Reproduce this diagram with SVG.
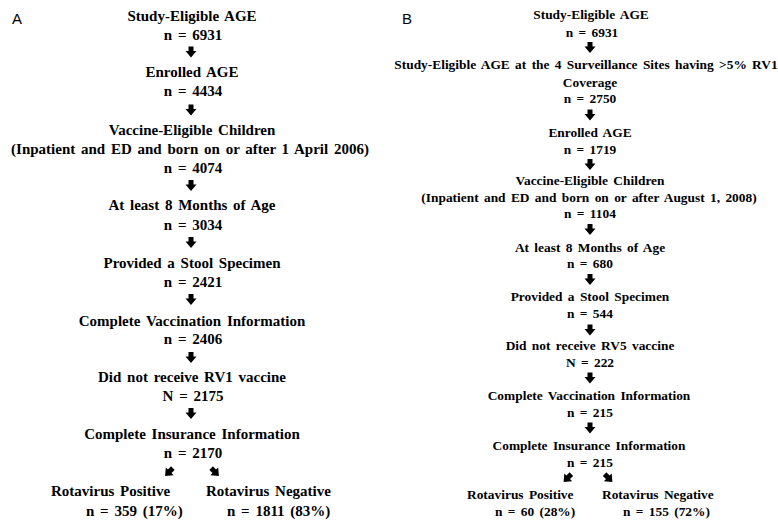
<svg xmlns="http://www.w3.org/2000/svg" xmlns:xlink="http://www.w3.org/1999/xlink" width="778" height="523" viewBox="0 0 778 523">
<style>
.t{font-family:"Liberation Serif","Times New Roman",serif;font-weight:bold;fill:#000;text-anchor:middle;word-spacing:2px}
.a{font-size:15px}
.b{font-size:13.4px}
.s{text-anchor:start}
.lbl{font-family:"Liberation Sans",Arial,sans-serif;font-size:15px;fill:#000}
</style>
<defs>
<path id="arr" d="M-2.5,-5.5 H2.5 V-1 H5.5 L0,5.5 L-5.5,-1 H-2.5 Z" fill="#000"/>
</defs>
<rect width="778" height="523" fill="#fff"/>
<text class="lbl" x="12" y="24">A</text>
<text class="lbl" x="402" y="24">B</text>
<g id="A-nodes" class="t a">
<g id="a1"><text x="192" y="21">Study-Eligible AGE</text><text x="193" y="40">n = 6931</text></g>
<g id="a2"><text x="192" y="77">Enrolled AGE</text><text x="193" y="96">n = 4434</text></g>
<g id="a3"><text x="192" y="135">Vaccine-Eligible Children</text><text x="190" y="154">(Inpatient and ED and born on or after 1 April 2006)</text><text x="193" y="173">n = 4074</text></g>
<g id="a4"><text x="192" y="210">At least 8 Months of Age</text><text x="193" y="230">n = 3034</text></g>
<g id="a5"><text x="192" y="268">Provided a Stool Specimen</text><text x="193" y="287">n = 2421</text></g>
<g id="a6"><text x="192" y="326">Complete Vaccination Information</text><text x="193" y="344">n = 2406</text></g>
<g id="a7"><text x="192" y="382">Did not receive RV1 vaccine</text><text x="193" y="401">N = 2175</text></g>
<g id="a8"><text x="192" y="439">Complete Insurance Information</text><text x="193" y="458">n = 2170</text></g>
<g id="a9"><text class="s" x="51" y="496">Rotavirus Positive</text><text class="s" x="86" y="516">n = 359 (17%)</text></g>
<g id="a10"><text class="s" x="206" y="496">Rotavirus Negative</text><text class="s" x="227" y="516">n = 1811 (83%)</text></g>
</g>
<g id="B-nodes" class="t b">
<g id="b1"><text x="591" y="19">Study-Eligible AGE</text><text x="592" y="37">n = 6931</text></g>
<g id="b2"><text x="586" y="69">Study-Eligible AGE at the 4 Surveillance Sites having &gt;5% RV1</text><text x="590" y="87">Coverage</text><text x="590" y="103">n = 2750</text></g>
<g id="b3"><text x="590" y="137">Enrolled AGE</text><text x="590" y="154">n = 1719</text></g>
<g id="b4"><text x="590" y="185">Vaccine-Eligible Children</text><text x="589" y="202">(Inpatient and ED and born on or after August 1, 2008)</text><text x="590" y="218">n = 1104</text></g>
<g id="b5"><text x="590" y="252">At least 8 Months of Age</text><text x="590" y="268">n = 680</text></g>
<g id="b6"><text x="590" y="301">Provided a Stool Specimen</text><text x="590" y="318">n = 544</text></g>
<g id="b7"><text x="590" y="350">Did not receive RV5 vaccine</text><text x="590" y="367">N = 222</text></g>
<g id="b8"><text x="589" y="400">Complete Vaccination Information</text><text x="590" y="417">n = 215</text></g>
<g id="b9"><text x="589" y="450">Complete Insurance Information</text><text x="590" y="467">n = 215</text></g>
<g id="b10"><text class="s" x="467" y="499">Rotavirus Positive</text><text class="s" x="495" y="516">n = 60 (28%)</text></g>
<g id="b11"><text class="s" x="602" y="499">Rotavirus Negative</text><text class="s" x="623" y="516">n = 155 (72%)</text></g>
</g>
<g id="connectors">
<use xlink:href="#arr" transform="translate(191,52)"/>
<use xlink:href="#arr" transform="translate(191,110)"/>
<use xlink:href="#arr" transform="translate(191,185.5)"/>
<use xlink:href="#arr" transform="translate(191,242.5)"/>
<use xlink:href="#arr" transform="translate(191,299.5)"/>
<use xlink:href="#arr" transform="translate(191,357.5)"/>
<use xlink:href="#arr" transform="translate(191,413.5)"/>
<use xlink:href="#arr" transform="translate(169,472) rotate(45)"/>
<use xlink:href="#arr" transform="translate(215,472) rotate(-45)"/>
<use xlink:href="#arr" transform="translate(590,47.5)"/>
<use xlink:href="#arr" transform="translate(590,115)"/>
<use xlink:href="#arr" transform="translate(590,164.5)"/>
<use xlink:href="#arr" transform="translate(590,229.5)"/>
<use xlink:href="#arr" transform="translate(590,279.5)"/>
<use xlink:href="#arr" transform="translate(590,330)"/>
<use xlink:href="#arr" transform="translate(590,378)"/>
<use xlink:href="#arr" transform="translate(590,428)"/>
<use xlink:href="#arr" transform="translate(567.5,478) rotate(45)"/>
<use xlink:href="#arr" transform="translate(608.5,478) rotate(-45)"/>
</g>
</svg>
